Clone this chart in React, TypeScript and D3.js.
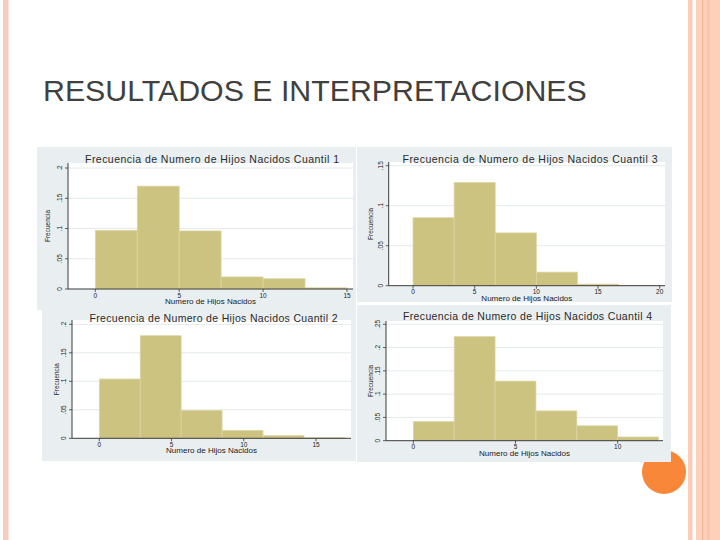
import React from 'react';
import * as d3 from 'd3';

// slide heading
const slideTitle = 'RESULTADOS E INTERPRETACIONES';

// density heights per bin
const q1Heights = [0.097, 0.170, 0.096, 0.020, 0.017, 0.002];
const q2Heights = [0.104, 0.180, 0.049, 0.014, 0.0047, 0.001];
const q3Heights = [0.085, 0.129, 0.066, 0.017, 0.002, 0.0005];
const q4Heights = [0.041, 0.2235, 0.128, 0.064, 0.032, 0.008];

// bin widths (each histogram starts at 0)
const q1BinWidth = 2.5;
const q2BinWidth = 17 / 6;
const q3BinWidth = 10 / 3;
const q4BinWidth = 2;

// tick values
const q1YTicks = [0, 0.05, 0.1, 0.15, 0.2];
const q2YTicks = [0, 0.05, 0.1, 0.15, 0.2];
const q3YTicks = [0, 0.05, 0.1, 0.15];
const q4YTicks = [0, 0.05, 0.1, 0.15, 0.2, 0.25];
const q1XTicks = [0, 5, 10, 15];
const q2XTicks = [0, 5, 10, 15];
const q3XTicks = [0, 5, 10, 15, 20];
const q4XTicks = [0, 5, 10];

const titles = [
  'Frecuencia de Numero de Hijos Nacidos Cuantil 1',
  'Frecuencia de Numero de Hijos Nacidos Cuantil 2',
  'Frecuencia de Numero de Hijos Nacidos Cuantil 3',
  'Frecuencia de Numero de Hijos Nacidos Cuantil 4',
];
const xTitle = 'Numero de Hijos Nacidos';
const yTitle = 'Frecuencia';

const BAR = '#cdc381';
const BG = '#e9eff1';
const GRID = '#e4eaec';
const FONT = '"Liberation Sans", Arial, sans-serif';

const fmtY = (v: number) => (v === 0 ? '0' : d3.format('.2~f')(v).replace(/^0/, ''));

type PanelProps = {
  title: string;
  heights: number[];
  binWidth: number;
  yTicks: number[];
  xTicks: number[];
  bg: [number, number, number, number];
  xPix: [number, number]; // pixel of first and last x tick
  yPix: [number, number]; // pixel of first and last y tick
  plotBox: [number, number, number, number];
  titlePos: [number, number, number]; // center x, baseline, width
  yTitleX: number;
};

function Panel(p: PanelProps) {
  const x = d3.scaleLinear()
    .domain([p.xTicks[0], p.xTicks[p.xTicks.length - 1]])
    .range(p.xPix);
  const y = d3.scaleLinear()
    .domain([p.yTicks[0], p.yTicks[p.yTicks.length - 1]])
    .range(p.yPix);
  const [px0, py0, px1, py1] = p.plotBox;
  const axisY = y(0);
  const bins = p.heights.map((h, i) => ({ x0: i * p.binWidth, x1: (i + 1) * p.binWidth, h }));
  const xTitleX = (px0 + px1) / 2;

  return (
    <g>
      <rect x={p.bg[0]} y={p.bg[1]} width={p.bg[2] - p.bg[0]} height={p.bg[3] - p.bg[1]} fill={BG} />
      <rect x={px0} y={py0} width={px1 - px0} height={py1 - py0} fill="#fff" />
      {p.yTicks.filter(t => t > 0).map(t => (
        <line key={t} x1={px0} x2={px1} y1={y(t)} y2={y(t)} stroke={GRID} strokeWidth={1} />
      ))}
      {bins.map((b, i) => (
        <rect key={i} x={x(b.x0)} y={y(b.h)} width={x(b.x1) - x(b.x0)} height={axisY - y(b.h)}
          fill={BAR} stroke="#ddd6a6" strokeWidth={0.7} />
      ))}
      <line x1={px0} x2={px0} y1={py0} y2={axisY} stroke="#3a3a3a" strokeWidth={1} />
      <line x1={px0} x2={px1} y1={axisY} y2={axisY} stroke="#3a3a3a" strokeWidth={1} />
      {p.yTicks.map(t => (
        <g key={t}>
          <line x1={px0 - 3} x2={px0} y1={y(t)} y2={y(t)} stroke="#3a3a3a" strokeWidth={0.8} />
          <text transform={`translate(${px0 - 6},${y(t)}) rotate(-90)`} textAnchor="middle"
            fontSize={6.5} fill="#222" fontFamily={FONT}>{fmtY(t)}</text>
        </g>
      ))}
      {p.xTicks.map(t => (
        <g key={t}>
          <line x1={x(t)} x2={x(t)} y1={axisY} y2={axisY + 3} stroke="#3a3a3a" strokeWidth={0.8} />
          <text x={x(t)} y={axisY + 8.5} textAnchor="middle" fontSize={6.5} fill="#222" fontFamily={FONT}>{t}</text>
        </g>
      ))}
      <text x={xTitleX} y={axisY + 15} textAnchor="middle" fontSize={7.5} fill="#222" fontFamily={FONT}
        textLength={91} lengthAdjust="spacingAndGlyphs">{xTitle}</text>
      <text transform={`translate(${p.yTitleX},${(py0 + axisY) / 2}) rotate(-90)`} textAnchor="middle"
        fontSize={6.5} fill="#222" fontFamily={FONT}>{yTitle}</text>
      <text x={p.titlePos[0]} y={p.titlePos[1]} textAnchor="middle" fontSize={10.5} fill="#2a2a2a" fontFamily={FONT}
        textLength={p.titlePos[2]} lengthAdjust="spacing">{p.title}</text>
    </g>
  );
}

export default function App() {
  return (
    <svg width={720} height={540} style={{ position: 'absolute', left: 0, top: 0, background: '#fff' }}>
      {/* slide decoration */}
      <rect x={3} y={0} width={5.5} height={540} fill="#f7cbbb" />
      <rect x={688} y={0} width={4.5} height={540} fill="#fbcdb9" />
      <rect x={696} y={0} width={24} height={540} fill="#fdd0bc" />
      <rect x={702} y={0} width={1.2} height={540} fill="#f2b394" />
      <rect x={707} y={0} width={3} height={540} fill="#fbc4ab" />
      <circle cx={664} cy={472} r={22} fill="#f8873a" />
      <text x={43} y={101} fontSize={30.3} fill="#404040" fontFamily={FONT}>{slideTitle}</text>

      <Panel title={titles[0]} heights={q1Heights} binWidth={q1BinWidth} yTicks={q1YTicks} xTicks={q1XTicks}
        bg={[37, 147, 356, 310]} xPix={[95.3, 347]} yPix={[289, 168]} plotBox={[68, 163, 353, 289]}
        titlePos={[212, 162.5, 254]} yTitleX={50} />
      <Panel title={titles[2]} heights={q3Heights} binWidth={q3BinWidth} yTicks={q3YTicks} xTicks={q3XTicks}
        bg={[357, 147, 672, 302]} xPix={[413, 659.7]} yPix={[285.7, 165.7]} plotBox={[388.7, 162, 665, 285.7]}
        titlePos={[530, 162.5, 255]} yTitleX={372.5} />
      <Panel title={titles[1]} heights={q2Heights} binWidth={q2BinWidth} yTicks={q2YTicks} xTicks={q2XTicks}
        bg={[42, 305, 356, 461]} xPix={[99.3, 316]} yPix={[438.3, 324.3]} plotBox={[72, 320, 351, 438.3]}
        titlePos={[213.5, 321.5, 248]} yTitleX={59} />
      <Panel title={titles[3]} heights={q4Heights} binWidth={q4BinWidth} yTicks={q4YTicks} xTicks={q4XTicks}
        bg={[357, 305, 671, 462]} xPix={[413.3, 617.7]} yPix={[440.7, 324.3]} plotBox={[386, 321, 663, 440.7]}
        titlePos={[527.5, 320, 249]} yTitleX={373} />
    </svg>
  );
}
